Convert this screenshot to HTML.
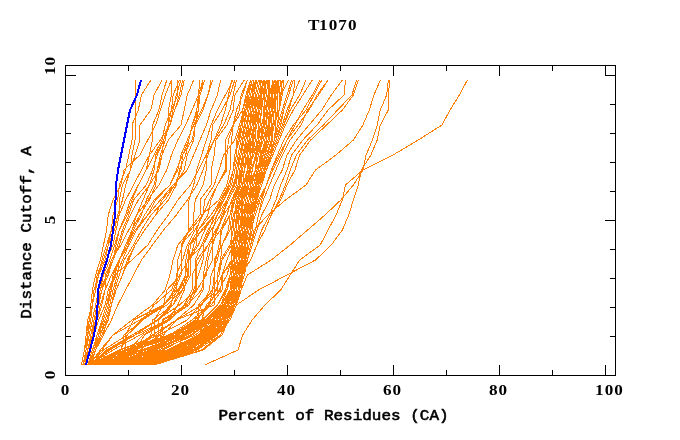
<!DOCTYPE html>
<html><head><meta charset="utf-8"><title>T1070</title>
<style>
html,body{margin:0;padding:0;background:#fff;}
svg{display:block}
text{font-family:"Liberation Mono","DejaVu Sans Mono",monospace;font-weight:normal;font-size:14.6px;fill:#000;stroke:#000;stroke-width:0.55px;stroke-linejoin:round}
text.d{font-family:"Liberation Serif",serif;font-weight:bold;font-size:14.8px;stroke:none}
</style></head><body>
<svg width="680" height="440" viewBox="0 0 680 440">
<rect width="680" height="440" fill="#fff"/>
<g shape-rendering="crispEdges" stroke-linejoin="round">
<path d="M81.3 365.0 84.5 350.0 86.1 335.0 89.2 320.0 90.8 305.0 92.4 290.0 95.6 275.0 100.3 260.0 103.5 245.0 106.6 230.0 108.2 215.0 113.0 200.0 120.9 185.0 124.0 170.0 139.9 155.0 147.8 140.0 155.7 125.0 160.4 110.0 165.2 95.0 171.5 80.0" stroke="#ff8000" stroke-width="1" fill="none"/>
<path d="M82.9 365.0 86.1 350.0 87.7 335.0 90.8 320.0 92.4 305.0 95.6 290.0 97.1 275.0 103.5 260.0 108.2 245.0 111.4 230.0 113.0 215.0 117.7 200.0 119.3 185.0 125.6 170.0 128.8 155.0 132.0 140.0 132.0 125.0 138.3 110.0 141.4 95.0 150.9 80.0" stroke="#ff8000" stroke-width="1" fill="none"/>
<path d="M81.3 365.0 84.5 350.0 87.7 335.0 89.2 320.0 92.4 305.0 95.6 290.0 98.7 275.0 105.1 260.0 108.2 245.0 114.6 230.0 117.7 215.0 122.5 200.0 125.6 185.0 130.4 170.0 135.1 155.0 139.9 140.0 139.9 125.0 150.9 110.0 154.1 95.0 162.0 80.0" stroke="#ff8000" stroke-width="1" fill="none"/>
<path d="M81.3 365.0 84.5 350.0 86.1 335.0 87.7 320.0 92.4 305.0 94.0 290.0 98.7 275.0 101.9 260.0 106.6 245.0 111.4 230.0 119.3 215.0 125.6 200.0 133.5 185.0 141.4 170.0 149.4 155.0 160.4 140.0 169.9 125.0 174.7 110.0 181.0 95.0 184.2 80.0" stroke="#ff8000" stroke-width="1" fill="none"/>
<path d="M86.1 365.0 87.7 350.0 92.4 335.0 95.6 320.0 97.1 305.0 100.3 290.0 103.5 275.0 106.6 260.0 113.0 245.0 116.1 230.0 119.3 215.0 119.3 200.0 122.5 185.0 130.4 170.0 132.0 155.0 135.1 140.0 135.1 125.0 135.1 110.0 135.1 95.0 135.1 80.0" stroke="#ff8000" stroke-width="1" fill="none"/>
<path d="M82.9 365.0 86.1 350.0 89.2 335.0 92.4 320.0 95.6 305.0 98.7 290.0 103.5 275.0 109.8 260.0 114.6 245.0 119.3 230.0 125.6 215.0 130.4 200.0 138.3 185.0 146.2 170.0 154.1 155.0 162.0 140.0 165.2 125.0 171.5 110.0 173.1 95.0 179.4 80.0" stroke="#ff8000" stroke-width="1" fill="none"/>
<path d="M86.1 365.0 89.2 350.0 94.0 335.0 97.1 320.0 100.3 305.0 105.1 290.0 105.1 275.0 113.0 260.0 116.1 245.0 119.3 230.0 127.2 215.0 132.0 200.0 138.3 185.0 146.2 170.0 149.4 155.0 152.5 140.0 152.5 125.0 158.9 110.0 162.0 95.0 166.8 80.0" stroke="#ff8000" stroke-width="1" fill="none"/>
<path d="M84.5 365.0 87.7 350.0 90.8 335.0 94.0 320.0 97.1 305.0 101.9 290.0 106.6 275.0 113.0 260.0 117.7 245.0 122.5 230.0 128.8 215.0 133.5 200.0 146.2 185.0 152.5 170.0 157.3 155.0 163.6 140.0 169.9 125.0 173.1 110.0 176.3 95.0 181.0 80.0" stroke="#ff8000" stroke-width="1" fill="none"/>
<path d="M82.9 365.0 87.7 350.0 90.8 335.0 95.6 320.0 98.7 305.0 101.9 290.0 108.2 275.0 113.0 260.0 119.3 245.0 124.0 230.0 130.4 215.0 138.3 200.0 149.4 185.0 158.9 170.0 162.0 155.0 168.3 140.0 181.0 125.0 184.2 110.0 187.3 95.0 193.7 80.0" stroke="#ff8000" stroke-width="1" fill="none"/>
<path d="M82.9 365.0 87.7 350.0 92.4 335.0 94.0 320.0 97.1 305.0 100.3 290.0 106.6 275.0 111.4 260.0 120.9 245.0 128.8 230.0 136.7 215.0 147.8 200.0 158.9 185.0 166.8 170.0 171.5 155.0 177.8 140.0 185.7 125.0 192.1 110.0 198.4 95.0 204.7 80.0" stroke="#ff8000" stroke-width="1" fill="none"/>
<path d="M87.7 365.0 94.0 350.0 98.7 335.0 101.9 320.0 106.6 305.0 111.4 290.0 113.0 275.0 119.3 260.0 127.2 245.0 132.0 230.0 139.9 215.0 149.4 200.0 155.7 185.0 157.3 170.0 162.0 155.0 163.6 140.0 169.9 125.0 174.7 110.0 179.4 95.0 182.6 80.0" stroke="#ff8000" stroke-width="1" fill="none"/>
<path d="M89.2 365.0 94.0 350.0 100.3 335.0 101.9 320.0 106.6 305.0 109.8 290.0 114.6 275.0 119.3 260.0 125.6 245.0 132.0 230.0 136.7 215.0 143.0 200.0 149.4 185.0 154.1 170.0 155.7 155.0 163.6 140.0 168.3 125.0 171.5 110.0 177.8 95.0 177.8 80.0" stroke="#ff8000" stroke-width="1" fill="none"/>
<path d="M89.2 365.0 94.0 350.0 100.3 335.0 105.1 320.0 109.8 305.0 113.0 290.0 117.7 275.0 119.3 260.0 127.2 245.0 133.5 230.0 141.4 215.0 146.2 200.0 154.1 185.0 157.3 170.0 160.4 155.0 165.2 140.0 168.3 125.0 168.3 110.0 171.5 95.0 171.5 80.0" stroke="#ff8000" stroke-width="1" fill="none"/>
<path d="M86.1 365.0 90.8 350.0 94.0 335.0 98.7 320.0 105.1 305.0 108.2 290.0 114.6 275.0 119.3 260.0 127.2 245.0 135.1 230.0 147.8 215.0 155.7 200.0 169.9 185.0 176.3 170.0 182.6 155.0 192.1 140.0 195.2 125.0 203.1 110.0 207.9 95.0 211.1 80.0" stroke="#ff8000" stroke-width="1" fill="none"/>
<path d="M84.5 365.0 89.2 350.0 92.4 335.0 97.1 320.0 101.9 305.0 105.1 290.0 111.4 275.0 119.3 260.0 128.8 245.0 136.7 230.0 147.8 215.0 160.4 200.0 173.1 185.0 187.3 170.0 193.7 155.0 200.0 140.0 206.3 125.0 211.1 110.0 217.4 95.0 220.6 80.0" stroke="#ff8000" stroke-width="1" fill="none"/>
<path d="M87.7 365.0 92.4 350.0 97.1 335.0 101.9 320.0 106.6 305.0 109.8 290.0 116.1 275.0 122.5 260.0 128.8 245.0 136.7 230.0 144.6 215.0 154.1 200.0 169.9 185.0 177.8 170.0 181.0 155.0 187.3 140.0 193.7 125.0 201.6 110.0 207.9 95.0 212.6 80.0" stroke="#ff8000" stroke-width="1" fill="none"/>
<path d="M89.2 365.0 95.6 350.0 100.3 335.0 106.6 320.0 111.4 305.0 114.6 290.0 119.3 275.0 124.0 260.0 133.5 245.0 141.4 230.0 150.9 215.0 165.2 200.0 174.7 185.0 184.2 170.0 187.3 155.0 193.7 140.0 195.2 125.0 198.4 110.0 200.0 95.0 204.7 80.0" stroke="#ff8000" stroke-width="1" fill="none"/>
<path d="M90.8 365.0 95.6 350.0 103.5 335.0 106.6 320.0 111.4 305.0 116.1 290.0 122.5 275.0 127.2 260.0 135.1 245.0 144.6 230.0 155.7 215.0 162.0 200.0 174.7 185.0 181.0 170.0 182.6 155.0 188.9 140.0 192.1 125.0 198.4 110.0 198.4 95.0 203.1 80.0" stroke="#ff8000" stroke-width="1" fill="none"/>
<path d="M89.2 365.0 95.6 350.0 101.9 335.0 108.2 320.0 111.4 305.0 116.1 290.0 122.5 275.0 128.8 260.0 135.1 245.0 144.6 230.0 155.7 215.0 168.3 200.0 176.3 185.0 179.4 170.0 185.7 155.0 188.9 140.0 192.1 125.0 196.8 110.0 198.4 95.0 200.0 80.0" stroke="#ff8000" stroke-width="1" fill="none"/>
<path d="M90.8 365.0 103.5 350.0 127.2 335.0 143.0 320.0 154.1 305.0 171.5 290.0 177.8 275.0 177.8 260.0 182.6 245.0 188.9 230.0 188.9 215.0 188.9 200.0 193.7 185.0 196.8 170.0 201.6 155.0 206.3 140.0 211.1 125.0 217.4 110.0 225.3 95.0 233.2 80.0" stroke="#ff8000" stroke-width="1" fill="none"/>
<path d="M89.2 365.0 100.3 350.0 113.0 335.0 132.0 320.0 152.5 305.0 165.2 290.0 169.9 275.0 173.1 260.0 177.8 245.0 190.5 230.0 203.1 215.0 204.7 200.0 214.2 185.0 219.0 170.0 223.7 155.0 234.8 140.0 239.5 125.0 244.3 110.0 249.0 95.0 252.2 80.0" stroke="#ff8000" stroke-width="1" fill="none"/>
<path d="M89.2 365.0 101.9 350.0 113.0 335.0 139.9 320.0 163.6 305.0 176.3 290.0 176.3 275.0 182.6 260.0 187.3 245.0 195.2 230.0 203.1 215.0 209.5 200.0 217.4 185.0 225.3 170.0 225.3 155.0 225.3 140.0 233.2 125.0 239.5 110.0 241.1 95.0 247.4 80.0" stroke="#ff8000" stroke-width="1" fill="none"/>
<path d="M90.8 365.0 108.2 350.0 132.0 335.0 157.3 320.0 171.5 305.0 173.1 290.0 179.4 275.0 188.9 260.0 198.4 245.0 204.7 230.0 214.2 215.0 220.6 200.0 230.0 185.0 233.2 170.0 234.8 155.0 239.5 140.0 241.1 125.0 242.7 110.0 247.4 95.0 250.6 80.0" stroke="#ff8000" stroke-width="1" fill="none"/>
<path d="M89.2 365.0 109.8 350.0 135.1 335.0 168.3 320.0 177.8 305.0 184.2 290.0 187.3 275.0 188.9 260.0 190.5 245.0 201.6 230.0 214.2 215.0 222.1 200.0 230.0 185.0 233.2 170.0 234.8 155.0 239.5 140.0 242.7 125.0 244.3 110.0 249.0 95.0 252.2 80.0" stroke="#ff8000" stroke-width="1" fill="none"/>
<path d="M89.2 365.0 113.0 350.0 139.9 335.0 166.8 320.0 188.9 305.0 196.8 290.0 206.3 275.0 207.9 260.0 212.6 245.0 212.6 230.0 217.4 215.0 226.9 200.0 233.2 185.0 238.0 170.0 239.5 155.0 242.7 140.0 244.3 125.0 247.4 110.0 250.6 95.0 253.8 80.0" stroke="#ff8000" stroke-width="1" fill="none"/>
<path d="M90.8 365.0 106.6 350.0 135.1 335.0 157.3 320.0 179.4 305.0 196.8 290.0 196.8 275.0 196.8 260.0 207.9 245.0 215.8 230.0 223.7 215.0 233.2 200.0 238.0 185.0 241.1 170.0 244.3 155.0 249.0 140.0 250.6 125.0 253.8 110.0 256.9 95.0 260.1 80.0" stroke="#ff8000" stroke-width="1" fill="none"/>
<path d="M89.2 365.0 119.3 350.0 158.9 335.0 187.3 320.0 200.0 305.0 217.4 290.0 217.4 275.0 220.6 260.0 222.1 245.0 230.0 230.0 231.6 215.0 234.8 200.0 241.1 185.0 241.1 170.0 244.3 155.0 247.4 140.0 249.0 125.0 255.4 110.0 255.4 95.0 258.5 80.0" stroke="#ff8000" stroke-width="1" fill="none"/>
<path d="M89.2 365.0 119.3 350.0 169.9 335.0 192.1 320.0 209.5 305.0 212.6 290.0 219.0 275.0 220.6 260.0 230.0 245.0 233.2 230.0 234.8 215.0 238.0 200.0 242.7 185.0 244.3 170.0 247.4 155.0 250.6 140.0 253.8 125.0 255.4 110.0 256.9 95.0 260.1 80.0" stroke="#ff8000" stroke-width="1" fill="none"/>
<path d="M89.2 365.0 124.0 350.0 171.5 335.0 196.8 320.0 207.9 305.0 219.0 290.0 226.9 275.0 231.6 260.0 231.6 245.0 236.4 230.0 236.4 215.0 242.7 200.0 245.9 185.0 247.4 170.0 249.0 155.0 250.6 140.0 253.8 125.0 255.4 110.0 258.5 95.0 261.7 80.0" stroke="#ff8000" stroke-width="1" fill="none"/>
<path d="M108.2 365.0 125.6 350.0 125.6 335.0 133.5 320.0 163.6 305.0 166.8 290.0 181.0 275.0 181.0 260.0 181.0 245.0 193.7 230.0 193.7 215.0 195.2 200.0 203.1 185.0 206.3 170.0 206.3 155.0 211.1 140.0 212.6 125.0 222.1 110.0 230.0 95.0 234.8 80.0" stroke="#ff8000" stroke-width="1" fill="none"/>
<path d="M100.3 365.0 120.9 350.0 124.0 335.0 143.0 320.0 163.6 305.0 174.7 290.0 181.0 275.0 181.0 260.0 181.0 245.0 188.9 230.0 200.0 215.0 200.0 200.0 211.1 185.0 211.1 170.0 214.2 155.0 215.8 140.0 226.9 125.0 233.2 110.0 234.8 95.0 244.3 80.0" stroke="#ff8000" stroke-width="1" fill="none"/>
<path d="M86.1 365.0 139.9 350.0 158.9 335.0 158.9 320.0 169.9 305.0 177.8 290.0 185.7 275.0 185.7 260.0 188.9 245.0 198.4 230.0 207.9 215.0 211.1 200.0 217.4 185.0 226.9 170.0 226.9 155.0 228.5 140.0 233.2 125.0 236.4 110.0 242.7 95.0 247.4 80.0" stroke="#ff8000" stroke-width="1" fill="none"/>
<path d="M86.1 365.0 127.2 350.0 154.1 335.0 154.1 320.0 163.6 305.0 179.4 290.0 185.7 275.0 187.3 260.0 196.8 245.0 196.8 230.0 201.6 215.0 219.0 200.0 226.9 185.0 230.0 170.0 230.0 155.0 231.6 140.0 233.2 125.0 242.7 110.0 245.9 95.0 250.6 80.0" stroke="#ff8000" stroke-width="1" fill="none"/>
<path d="M101.9 365.0 106.6 350.0 132.0 335.0 158.9 320.0 173.1 305.0 179.4 290.0 188.9 275.0 188.9 260.0 188.9 245.0 203.1 230.0 214.2 215.0 220.6 200.0 230.0 185.0 233.2 170.0 236.4 155.0 236.4 140.0 241.1 125.0 244.3 110.0 249.0 95.0 252.2 80.0" stroke="#ff8000" stroke-width="1" fill="none"/>
<path d="M90.8 365.0 120.9 350.0 127.2 335.0 141.4 320.0 166.8 305.0 182.6 290.0 190.5 275.0 190.5 260.0 193.7 245.0 198.4 230.0 211.1 215.0 220.6 200.0 228.5 185.0 233.2 170.0 234.8 155.0 238.0 140.0 241.1 125.0 245.9 110.0 247.4 95.0 252.2 80.0" stroke="#ff8000" stroke-width="1" fill="none"/>
<path d="M100.3 365.0 135.1 350.0 150.9 335.0 152.5 320.0 173.1 305.0 182.6 290.0 185.7 275.0 187.3 260.0 203.1 245.0 209.5 230.0 214.2 215.0 223.7 200.0 230.0 185.0 233.2 170.0 234.8 155.0 239.5 140.0 241.1 125.0 245.9 110.0 249.0 95.0 252.2 80.0" stroke="#ff8000" stroke-width="1" fill="none"/>
<path d="M113.0 365.0 152.5 350.0 162.0 335.0 162.0 320.0 185.7 305.0 195.2 290.0 195.2 275.0 195.2 260.0 201.6 245.0 207.9 230.0 217.4 215.0 223.7 200.0 231.6 185.0 234.8 170.0 238.0 155.0 241.1 140.0 244.3 125.0 245.9 110.0 250.6 95.0 253.8 80.0" stroke="#ff8000" stroke-width="1" fill="none"/>
<path d="M117.7 365.0 135.1 350.0 144.6 335.0 169.9 320.0 184.2 305.0 192.1 290.0 192.1 275.0 200.0 260.0 207.9 245.0 217.4 230.0 223.7 215.0 226.9 200.0 234.8 185.0 236.4 170.0 239.5 155.0 242.7 140.0 244.3 125.0 247.4 110.0 252.2 95.0 255.4 80.0" stroke="#ff8000" stroke-width="1" fill="none"/>
<path d="M97.1 365.0 139.9 350.0 160.4 335.0 163.6 320.0 188.9 305.0 193.7 290.0 198.4 275.0 203.1 260.0 203.1 245.0 211.1 230.0 220.6 215.0 226.9 200.0 234.8 185.0 238.0 170.0 241.1 155.0 242.7 140.0 245.9 125.0 249.0 110.0 252.2 95.0 255.4 80.0" stroke="#ff8000" stroke-width="1" fill="none"/>
<path d="M90.8 365.0 128.8 350.0 143.0 335.0 168.3 320.0 187.3 305.0 201.6 290.0 204.7 275.0 212.6 260.0 212.6 245.0 217.4 230.0 222.1 215.0 228.5 200.0 236.4 185.0 238.0 170.0 241.1 155.0 244.3 140.0 247.4 125.0 249.0 110.0 252.2 95.0 256.9 80.0" stroke="#ff8000" stroke-width="1" fill="none"/>
<path d="M113.0 365.0 136.7 350.0 152.5 335.0 176.3 320.0 193.7 305.0 203.1 290.0 203.1 275.0 206.3 260.0 209.5 245.0 220.6 230.0 226.9 215.0 231.6 200.0 238.0 185.0 239.5 170.0 242.7 155.0 245.9 140.0 247.4 125.0 250.6 110.0 253.8 95.0 256.9 80.0" stroke="#ff8000" stroke-width="1" fill="none"/>
<path d="M120.9 365.0 154.1 350.0 163.6 335.0 176.3 320.0 201.6 305.0 209.5 290.0 211.1 275.0 217.4 260.0 220.6 245.0 220.6 230.0 230.0 215.0 233.2 200.0 239.5 185.0 241.1 170.0 242.7 155.0 245.9 140.0 249.0 125.0 252.2 110.0 255.4 95.0 258.5 80.0" stroke="#ff8000" stroke-width="1" fill="none"/>
<path d="M108.2 365.0 133.5 350.0 155.7 335.0 176.3 320.0 214.2 305.0 214.2 290.0 214.2 275.0 215.8 260.0 219.0 245.0 222.1 230.0 230.0 215.0 233.2 200.0 238.0 185.0 241.1 170.0 244.3 155.0 247.4 140.0 249.0 125.0 252.2 110.0 255.4 95.0 258.5 80.0" stroke="#ff8000" stroke-width="1" fill="none"/>
<path d="M97.1 365.0 143.0 350.0 181.0 335.0 198.4 320.0 198.4 305.0 212.6 290.0 214.2 275.0 214.2 260.0 222.1 245.0 228.5 230.0 230.0 215.0 234.8 200.0 239.5 185.0 242.7 170.0 244.3 155.0 247.4 140.0 250.6 125.0 253.8 110.0 255.4 95.0 258.5 80.0" stroke="#ff8000" stroke-width="1" fill="none"/>
<path d="M135.1 365.0 177.8 350.0 182.6 335.0 195.2 320.0 201.6 305.0 212.6 290.0 219.0 275.0 222.1 260.0 231.6 245.0 231.6 230.0 234.8 215.0 236.4 200.0 242.7 185.0 244.3 170.0 247.4 155.0 249.0 140.0 252.2 125.0 253.8 110.0 256.9 95.0 260.1 80.0" stroke="#ff8000" stroke-width="1" fill="none"/>
<path d="M111.4 365.0 130.4 350.0 182.6 335.0 196.8 320.0 209.5 305.0 215.8 290.0 222.1 275.0 231.6 260.0 231.6 245.0 231.6 230.0 233.2 215.0 239.5 200.0 244.3 185.0 247.4 170.0 250.6 155.0 250.6 140.0 253.8 125.0 256.9 110.0 258.5 95.0 261.7 80.0" stroke="#ff8000" stroke-width="1" fill="none"/>
<path d="M94.0 365.0 135.1 350.0 171.5 335.0 195.2 320.0 211.1 305.0 222.1 290.0 222.1 275.0 226.9 260.0 233.2 245.0 236.4 230.0 236.4 215.0 241.1 200.0 245.9 185.0 247.4 170.0 249.0 155.0 252.2 140.0 253.8 125.0 255.4 110.0 258.5 95.0 261.7 80.0" stroke="#ff8000" stroke-width="1" fill="none"/>
<path d="M125.6 365.0 171.5 350.0 200.0 335.0 201.6 320.0 206.3 305.0 220.6 290.0 222.1 275.0 233.2 260.0 234.8 245.0 239.5 230.0 241.1 215.0 242.7 200.0 247.4 185.0 249.0 170.0 252.2 155.0 252.2 140.0 255.4 125.0 256.9 110.0 260.1 95.0 263.3 80.0" stroke="#ff8000" stroke-width="1" fill="none"/>
<path d="M124.0 365.0 154.1 350.0 168.3 335.0 201.6 320.0 217.4 305.0 225.3 290.0 230.0 275.0 233.2 260.0 236.4 245.0 239.5 230.0 242.7 215.0 245.9 200.0 247.4 185.0 250.6 170.0 252.2 155.0 253.8 140.0 256.9 125.0 258.5 110.0 261.7 95.0 263.3 80.0" stroke="#ff8000" stroke-width="1" fill="none"/>
<path d="M92.4 365.0 135.1 350.0 171.5 335.0 201.6 320.0 217.4 305.0 226.9 290.0 230.0 275.0 231.6 260.0 233.2 245.0 236.4 230.0 236.4 215.0 238.0 200.0 239.5 185.0 244.3 170.0 245.9 155.0 249.0 140.0 250.6 125.0 250.6 110.0 252.2 95.0 253.8 80.0" stroke="#ff8000" stroke-width="1" fill="none"/>
<path d="M87.7 365.0 127.2 350.0 174.7 335.0 203.1 320.0 217.4 305.0 226.9 290.0 230.0 275.0 233.2 260.0 233.2 245.0 234.8 230.0 236.4 215.0 238.0 200.0 239.5 185.0 242.7 170.0 244.3 155.0 245.9 140.0 249.0 125.0 252.2 110.0 252.2 95.0 253.8 80.0" stroke="#ff8000" stroke-width="1" fill="none"/>
<path d="M94.0 365.0 132.0 350.0 177.8 335.0 204.7 320.0 220.6 305.0 226.9 290.0 231.6 275.0 233.2 260.0 234.8 245.0 238.0 230.0 239.5 215.0 242.7 200.0 242.7 185.0 247.4 170.0 250.6 155.0 253.8 140.0 256.9 125.0 260.1 110.0 260.1 95.0 260.1 80.0" stroke="#ff8000" stroke-width="1" fill="none"/>
<path d="M95.6 365.0 133.5 350.0 181.0 335.0 204.7 320.0 222.1 305.0 230.0 290.0 233.2 275.0 234.8 260.0 234.8 245.0 239.5 230.0 241.1 215.0 241.1 200.0 245.9 185.0 247.4 170.0 249.0 155.0 249.0 140.0 250.6 125.0 252.2 110.0 253.8 95.0 256.9 80.0" stroke="#ff8000" stroke-width="1" fill="none"/>
<path d="M95.6 365.0 132.0 350.0 176.3 335.0 207.9 320.0 220.6 305.0 226.9 290.0 230.0 275.0 233.2 260.0 234.8 245.0 236.4 230.0 238.0 215.0 241.1 200.0 242.7 185.0 247.4 170.0 247.4 155.0 249.0 140.0 250.6 125.0 252.2 110.0 253.8 95.0 255.4 80.0" stroke="#ff8000" stroke-width="1" fill="none"/>
<path d="M103.5 365.0 146.2 350.0 184.2 335.0 207.9 320.0 222.1 305.0 230.0 290.0 233.2 275.0 234.8 260.0 238.0 245.0 241.1 230.0 241.1 215.0 242.7 200.0 244.3 185.0 247.4 170.0 247.4 155.0 249.0 140.0 250.6 125.0 252.2 110.0 252.2 95.0 256.9 80.0" stroke="#ff8000" stroke-width="1" fill="none"/>
<path d="M101.9 365.0 141.4 350.0 182.6 335.0 207.9 320.0 223.7 305.0 231.6 290.0 233.2 275.0 234.8 260.0 234.8 245.0 238.0 230.0 238.0 215.0 239.5 200.0 242.7 185.0 244.3 170.0 249.0 155.0 252.2 140.0 253.8 125.0 253.8 110.0 255.4 95.0 258.5 80.0" stroke="#ff8000" stroke-width="1" fill="none"/>
<path d="M100.3 365.0 143.0 350.0 185.7 335.0 209.5 320.0 222.1 305.0 230.0 290.0 234.8 275.0 236.4 260.0 239.5 245.0 241.1 230.0 241.1 215.0 244.3 200.0 247.4 185.0 249.0 170.0 250.6 155.0 253.8 140.0 253.8 125.0 260.1 110.0 260.1 95.0 264.9 80.0" stroke="#ff8000" stroke-width="1" fill="none"/>
<path d="M103.5 365.0 154.1 350.0 187.3 335.0 207.9 320.0 220.6 305.0 230.0 290.0 233.2 275.0 236.4 260.0 238.0 245.0 241.1 230.0 244.3 215.0 245.9 200.0 247.4 185.0 250.6 170.0 256.9 155.0 256.9 140.0 258.5 125.0 258.5 110.0 260.1 95.0 264.9 80.0" stroke="#ff8000" stroke-width="1" fill="none"/>
<path d="M113.0 365.0 150.9 350.0 187.3 335.0 211.1 320.0 225.3 305.0 230.0 290.0 231.6 275.0 234.8 260.0 236.4 245.0 239.5 230.0 241.1 215.0 244.3 200.0 245.9 185.0 249.0 170.0 252.2 155.0 255.4 140.0 255.4 125.0 258.5 110.0 264.9 95.0 266.4 80.0" stroke="#ff8000" stroke-width="1" fill="none"/>
<path d="M108.2 365.0 149.4 350.0 182.6 335.0 206.3 320.0 223.7 305.0 230.0 290.0 234.8 275.0 236.4 260.0 239.5 245.0 241.1 230.0 242.7 215.0 245.9 200.0 249.0 185.0 249.0 170.0 252.2 155.0 258.5 140.0 258.5 125.0 261.7 110.0 261.7 95.0 266.4 80.0" stroke="#ff8000" stroke-width="1" fill="none"/>
<path d="M119.3 365.0 154.1 350.0 190.5 335.0 211.1 320.0 225.3 305.0 231.6 290.0 233.2 275.0 236.4 260.0 239.5 245.0 241.1 230.0 242.7 215.0 245.9 200.0 249.0 185.0 252.2 170.0 255.4 155.0 258.5 140.0 261.7 125.0 264.9 110.0 268.0 95.0 269.6 80.0" stroke="#ff8000" stroke-width="1" fill="none"/>
<path d="M109.8 365.0 155.7 350.0 184.2 335.0 211.1 320.0 223.7 305.0 231.6 290.0 236.4 275.0 238.0 260.0 239.5 245.0 239.5 230.0 241.1 215.0 242.7 200.0 245.9 185.0 247.4 170.0 253.8 155.0 258.5 140.0 260.1 125.0 261.7 110.0 263.3 95.0 266.4 80.0" stroke="#ff8000" stroke-width="1" fill="none"/>
<path d="M109.8 365.0 152.5 350.0 192.1 335.0 211.1 320.0 225.3 305.0 231.6 290.0 234.8 275.0 238.0 260.0 239.5 245.0 242.7 230.0 245.9 215.0 249.0 200.0 250.6 185.0 255.4 170.0 256.9 155.0 260.1 140.0 263.3 125.0 263.3 110.0 266.4 95.0 268.0 80.0" stroke="#ff8000" stroke-width="1" fill="none"/>
<path d="M108.2 365.0 150.9 350.0 192.1 335.0 212.6 320.0 225.3 305.0 231.6 290.0 233.2 275.0 236.4 260.0 239.5 245.0 241.1 230.0 242.7 215.0 242.7 200.0 249.0 185.0 252.2 170.0 256.9 155.0 261.7 140.0 264.9 125.0 264.9 110.0 264.9 95.0 264.9 80.0" stroke="#ff8000" stroke-width="1" fill="none"/>
<path d="M124.0 365.0 169.9 350.0 200.0 335.0 219.0 320.0 230.0 305.0 234.8 290.0 236.4 275.0 238.0 260.0 239.5 245.0 241.1 230.0 244.3 215.0 247.4 200.0 250.6 185.0 255.4 170.0 256.9 155.0 261.7 140.0 264.9 125.0 269.6 110.0 269.6 95.0 269.6 80.0" stroke="#ff8000" stroke-width="1" fill="none"/>
<path d="M111.4 365.0 162.0 350.0 192.1 335.0 212.6 320.0 225.3 305.0 231.6 290.0 236.4 275.0 239.5 260.0 241.1 245.0 242.7 230.0 245.9 215.0 249.0 200.0 252.2 185.0 255.4 170.0 256.9 155.0 261.7 140.0 263.3 125.0 266.4 110.0 269.6 95.0 269.6 80.0" stroke="#ff8000" stroke-width="1" fill="none"/>
<path d="M119.3 365.0 163.6 350.0 190.5 335.0 212.6 320.0 225.3 305.0 233.2 290.0 236.4 275.0 239.5 260.0 241.1 245.0 244.3 230.0 244.3 215.0 249.0 200.0 252.2 185.0 255.4 170.0 258.5 155.0 263.3 140.0 266.4 125.0 266.4 110.0 268.0 95.0 268.0 80.0" stroke="#ff8000" stroke-width="1" fill="none"/>
<path d="M133.5 365.0 179.4 350.0 198.4 335.0 212.6 320.0 226.9 305.0 234.8 290.0 236.4 275.0 238.0 260.0 241.1 245.0 244.3 230.0 247.4 215.0 252.2 200.0 253.8 185.0 256.9 170.0 261.7 155.0 264.9 140.0 266.4 125.0 268.0 110.0 275.9 95.0 277.5 80.0" stroke="#ff8000" stroke-width="1" fill="none"/>
<path d="M130.4 365.0 177.8 350.0 203.1 335.0 215.8 320.0 226.9 305.0 233.2 290.0 238.0 275.0 239.5 260.0 241.1 245.0 244.3 230.0 247.4 215.0 249.0 200.0 253.8 185.0 258.5 170.0 260.1 155.0 261.7 140.0 264.9 125.0 268.0 110.0 268.0 95.0 268.0 80.0" stroke="#ff8000" stroke-width="1" fill="none"/>
<path d="M120.9 365.0 168.3 350.0 200.0 335.0 215.8 320.0 225.3 305.0 231.6 290.0 236.4 275.0 238.0 260.0 241.1 245.0 242.7 230.0 244.3 215.0 245.9 200.0 249.0 185.0 255.4 170.0 258.5 155.0 261.7 140.0 261.7 125.0 264.9 110.0 269.6 95.0 274.3 80.0" stroke="#ff8000" stroke-width="1" fill="none"/>
<path d="M124.0 365.0 171.5 350.0 200.0 335.0 217.4 320.0 226.9 305.0 234.8 290.0 236.4 275.0 238.0 260.0 241.1 245.0 244.3 230.0 245.9 215.0 249.0 200.0 252.2 185.0 255.4 170.0 263.3 155.0 264.9 140.0 268.0 125.0 269.6 110.0 271.2 95.0 272.8 80.0" stroke="#ff8000" stroke-width="1" fill="none"/>
<path d="M128.8 365.0 174.7 350.0 206.3 335.0 222.1 320.0 231.6 305.0 236.4 290.0 238.0 275.0 241.1 260.0 244.3 245.0 245.9 230.0 250.6 215.0 253.8 200.0 256.9 185.0 260.1 170.0 260.1 155.0 266.4 140.0 269.6 125.0 271.2 110.0 272.8 95.0 272.8 80.0" stroke="#ff8000" stroke-width="1" fill="none"/>
<path d="M128.8 365.0 173.1 350.0 204.7 335.0 222.1 320.0 231.6 305.0 234.8 290.0 238.0 275.0 241.1 260.0 241.1 245.0 242.7 230.0 245.9 215.0 249.0 200.0 255.4 185.0 260.1 170.0 263.3 155.0 268.0 140.0 268.0 125.0 269.6 110.0 271.2 95.0 272.8 80.0" stroke="#ff8000" stroke-width="1" fill="none"/>
<path d="M139.9 365.0 181.0 350.0 212.6 335.0 223.7 320.0 231.6 305.0 236.4 290.0 238.0 275.0 241.1 260.0 244.3 245.0 244.3 230.0 247.4 215.0 249.0 200.0 250.6 185.0 252.2 170.0 256.9 155.0 258.5 140.0 261.7 125.0 264.9 110.0 268.0 95.0 274.3 80.0" stroke="#ff8000" stroke-width="1" fill="none"/>
<path d="M135.1 365.0 182.6 350.0 204.7 335.0 219.0 320.0 228.5 305.0 234.8 290.0 236.4 275.0 239.5 260.0 242.7 245.0 247.4 230.0 247.4 215.0 252.2 200.0 253.8 185.0 258.5 170.0 260.1 155.0 266.4 140.0 268.0 125.0 271.2 110.0 272.8 95.0 274.3 80.0" stroke="#ff8000" stroke-width="1" fill="none"/>
<path d="M133.5 365.0 184.2 350.0 209.5 335.0 220.6 320.0 231.6 305.0 236.4 290.0 239.5 275.0 241.1 260.0 244.3 245.0 245.9 230.0 247.4 215.0 250.6 200.0 253.8 185.0 256.9 170.0 263.3 155.0 266.4 140.0 268.0 125.0 274.3 110.0 275.9 95.0 275.9 80.0" stroke="#ff8000" stroke-width="1" fill="none"/>
<path d="M139.9 365.0 185.7 350.0 209.5 335.0 225.3 320.0 231.6 305.0 238.0 290.0 241.1 275.0 242.7 260.0 244.3 245.0 244.3 230.0 245.9 215.0 249.0 200.0 256.9 185.0 256.9 170.0 261.7 155.0 264.9 140.0 266.4 125.0 268.0 110.0 272.8 95.0 274.3 80.0" stroke="#ff8000" stroke-width="1" fill="none"/>
<path d="M141.4 365.0 188.9 350.0 211.1 335.0 223.7 320.0 231.6 305.0 239.5 290.0 242.7 275.0 244.3 260.0 245.9 245.0 247.4 230.0 250.6 215.0 253.8 200.0 256.9 185.0 261.7 170.0 264.9 155.0 269.6 140.0 269.6 125.0 269.6 110.0 272.8 95.0 277.5 80.0" stroke="#ff8000" stroke-width="1" fill="none"/>
<path d="M144.6 365.0 188.9 350.0 209.5 335.0 225.3 320.0 234.8 305.0 239.5 290.0 241.1 275.0 244.3 260.0 244.3 245.0 247.4 230.0 249.0 215.0 252.2 200.0 258.5 185.0 264.9 170.0 264.9 155.0 266.4 140.0 269.6 125.0 272.8 110.0 272.8 95.0 275.9 80.0" stroke="#ff8000" stroke-width="1" fill="none"/>
<path d="M136.7 365.0 190.5 350.0 211.1 335.0 223.7 320.0 233.2 305.0 236.4 290.0 238.0 275.0 241.1 260.0 244.3 245.0 247.4 230.0 249.0 215.0 252.2 200.0 255.4 185.0 258.5 170.0 263.3 155.0 269.6 140.0 269.6 125.0 272.8 110.0 272.8 95.0 275.9 80.0" stroke="#ff8000" stroke-width="1" fill="none"/>
<path d="M150.9 365.0 196.8 350.0 220.6 335.0 225.3 320.0 234.8 305.0 238.0 290.0 241.1 275.0 242.7 260.0 245.9 245.0 245.9 230.0 247.4 215.0 253.8 200.0 260.1 185.0 266.4 170.0 271.2 155.0 274.3 140.0 277.5 125.0 279.1 110.0 280.7 95.0 282.3 80.0" stroke="#ff8000" stroke-width="1" fill="none"/>
<path d="M146.2 365.0 187.3 350.0 215.8 335.0 223.7 320.0 234.8 305.0 241.1 290.0 241.1 275.0 244.3 260.0 245.9 245.0 245.9 230.0 252.2 215.0 253.8 200.0 258.5 185.0 260.1 170.0 264.9 155.0 269.6 140.0 271.2 125.0 272.8 110.0 277.5 95.0 282.3 80.0" stroke="#ff8000" stroke-width="1" fill="none"/>
<path d="M149.4 365.0 201.6 350.0 220.6 335.0 228.5 320.0 234.8 305.0 238.0 290.0 242.7 275.0 245.9 260.0 245.9 245.0 249.0 230.0 250.6 215.0 253.8 200.0 260.1 185.0 264.9 170.0 271.2 155.0 274.3 140.0 275.9 125.0 275.9 110.0 275.9 95.0 279.1 80.0" stroke="#ff8000" stroke-width="1" fill="none"/>
<path d="M146.2 365.0 193.7 350.0 215.8 335.0 222.1 320.0 233.2 305.0 239.5 290.0 242.7 275.0 244.3 260.0 245.9 245.0 247.4 230.0 252.2 215.0 253.8 200.0 256.9 185.0 261.7 170.0 266.4 155.0 272.8 140.0 272.8 125.0 274.3 110.0 274.3 95.0 275.9 80.0" stroke="#ff8000" stroke-width="1" fill="none"/>
<path d="M141.4 365.0 195.2 350.0 217.4 335.0 226.9 320.0 234.8 305.0 241.1 290.0 241.1 275.0 244.3 260.0 245.9 245.0 247.4 230.0 250.6 215.0 253.8 200.0 258.5 185.0 261.7 170.0 268.0 155.0 271.2 140.0 271.2 125.0 272.8 110.0 274.3 95.0 275.9 80.0" stroke="#ff8000" stroke-width="1" fill="none"/>
<path d="M143.0 365.0 184.2 350.0 212.6 335.0 226.9 320.0 233.2 305.0 239.5 290.0 241.1 275.0 244.3 260.0 245.9 245.0 249.0 230.0 252.2 215.0 256.9 200.0 260.1 185.0 266.4 170.0 271.2 155.0 271.2 140.0 274.3 125.0 277.5 110.0 277.5 95.0 277.5 80.0" stroke="#ff8000" stroke-width="1" fill="none"/>
<path d="M154.1 365.0 203.1 350.0 220.6 335.0 228.5 320.0 236.4 305.0 239.5 290.0 242.7 275.0 242.7 260.0 245.9 245.0 249.0 230.0 253.8 215.0 256.9 200.0 261.7 185.0 266.4 170.0 271.2 155.0 274.3 140.0 277.5 125.0 279.1 110.0 282.3 95.0 283.8 80.0" stroke="#ff8000" stroke-width="1" fill="none"/>
<path d="M138.3 365.0 181.0 350.0 209.5 335.0 222.1 320.0 230.0 305.0 236.4 290.0 238.0 275.0 242.7 260.0 242.7 245.0 245.9 230.0 249.0 215.0 255.4 200.0 256.9 185.0 261.7 170.0 268.0 155.0 271.2 140.0 274.3 125.0 277.5 110.0 277.5 95.0 279.1 80.0" stroke="#ff8000" stroke-width="1" fill="none"/>
<path d="M143.0 365.0 188.9 350.0 212.6 335.0 222.1 320.0 231.6 305.0 238.0 290.0 239.5 275.0 242.7 260.0 244.3 245.0 245.9 230.0 249.0 215.0 253.8 200.0 256.9 185.0 261.7 170.0 268.0 155.0 271.2 140.0 274.3 125.0 279.1 110.0 279.1 95.0 280.7 80.0" stroke="#ff8000" stroke-width="1" fill="none"/>
<path d="M146.2 365.0 195.2 350.0 215.8 335.0 225.3 320.0 233.2 305.0 238.0 290.0 241.1 275.0 241.1 260.0 242.7 245.0 244.3 230.0 247.4 215.0 252.2 200.0 255.4 185.0 261.7 170.0 266.4 155.0 271.2 140.0 272.8 125.0 279.1 110.0 280.7 95.0 288.6 80.0" stroke="#ff8000" stroke-width="1" fill="none"/>
<path d="M130.4 365.0 177.8 350.0 206.3 335.0 219.0 320.0 230.0 305.0 234.8 290.0 238.0 275.0 244.3 260.0 245.9 245.0 249.0 230.0 250.6 215.0 255.4 200.0 256.9 185.0 263.3 170.0 269.6 155.0 274.3 140.0 277.5 125.0 282.3 110.0 287.0 95.0 291.7 80.0" stroke="#ff8000" stroke-width="1" fill="none"/>
<path d="M116.1 365.0 155.7 350.0 190.5 335.0 212.6 320.0 225.3 305.0 231.6 290.0 234.8 275.0 242.7 260.0 244.3 245.0 247.4 230.0 250.6 215.0 255.4 200.0 258.5 185.0 263.3 170.0 271.2 155.0 274.3 140.0 279.1 125.0 283.8 110.0 288.6 95.0 293.3 80.0" stroke="#ff8000" stroke-width="1" fill="none"/>
<path d="M135.1 365.0 181.0 350.0 206.3 335.0 220.6 320.0 230.0 305.0 236.4 290.0 238.0 275.0 242.7 260.0 244.3 245.0 247.4 230.0 250.6 215.0 253.8 200.0 258.5 185.0 263.3 170.0 268.0 155.0 275.9 140.0 280.7 125.0 283.8 110.0 288.6 95.0 293.3 80.0" stroke="#ff8000" stroke-width="1" fill="none"/>
<path d="M127.2 365.0 173.1 350.0 203.1 335.0 219.0 320.0 230.0 305.0 234.8 290.0 236.4 275.0 242.7 260.0 245.9 245.0 247.4 230.0 250.6 215.0 255.4 200.0 258.5 185.0 263.3 170.0 269.6 155.0 275.9 140.0 282.3 125.0 287.0 110.0 293.3 95.0 294.9 80.0" stroke="#ff8000" stroke-width="1" fill="none"/>
<path d="M122.5 365.0 166.8 350.0 198.4 335.0 215.8 320.0 226.9 305.0 233.2 290.0 236.4 275.0 244.3 260.0 245.9 245.0 247.4 230.0 250.6 215.0 255.4 200.0 260.1 185.0 264.9 170.0 271.2 155.0 277.5 140.0 283.8 125.0 288.6 110.0 293.3 95.0 299.7 80.0" stroke="#ff8000" stroke-width="1" fill="none"/>
<path d="M138.3 365.0 184.2 350.0 207.9 335.0 222.1 320.0 231.6 305.0 238.0 290.0 239.5 275.0 245.9 260.0 247.4 245.0 250.6 230.0 250.6 215.0 256.9 200.0 260.1 185.0 264.9 170.0 271.2 155.0 277.5 140.0 283.8 125.0 290.2 110.0 299.7 95.0 306.0 80.0" stroke="#ff8000" stroke-width="1" fill="none"/>
<path d="M147.8 365.0 193.7 350.0 215.8 335.0 225.3 320.0 234.8 305.0 239.5 290.0 241.1 275.0 244.3 260.0 247.4 245.0 250.6 230.0 252.2 215.0 255.4 200.0 261.7 185.0 266.4 170.0 272.8 155.0 279.1 140.0 285.4 125.0 293.3 110.0 302.8 95.0 312.3 80.0" stroke="#ff8000" stroke-width="1" fill="none"/>
<path d="M143.0 365.0 193.7 350.0 217.4 335.0 228.5 320.0 234.8 305.0 239.5 290.0 241.1 275.0 245.9 260.0 249.0 245.0 252.2 230.0 253.8 215.0 258.5 200.0 266.4 185.0 271.2 170.0 277.5 155.0 283.8 140.0 293.3 125.0 306.0 110.0 313.9 95.0 321.8 80.0" stroke="#ff8000" stroke-width="1" fill="none"/>
<path d="M127.2 365.0 171.5 350.0 201.6 335.0 219.0 320.0 228.5 305.0 234.8 290.0 238.0 275.0 247.4 260.0 250.6 245.0 255.4 230.0 258.5 215.0 261.7 200.0 266.4 185.0 272.8 170.0 280.7 155.0 287.0 140.0 294.9 125.0 302.8 110.0 312.3 95.0 320.2 80.0" stroke="#ff8000" stroke-width="1" fill="none"/>
<path d="M127.2 365.0 171.5 350.0 198.4 335.0 217.4 320.0 228.5 305.0 233.2 290.0 236.4 275.0 244.3 260.0 249.0 245.0 250.6 230.0 255.4 215.0 260.1 200.0 266.4 185.0 271.2 170.0 279.1 155.0 287.0 140.0 298.1 125.0 309.1 110.0 317.1 95.0 328.1 80.0" stroke="#ff8000" stroke-width="1" fill="none"/>
<path d="M116.1 365.0 158.9 350.0 195.2 335.0 214.2 320.0 226.9 305.0 231.6 290.0 236.4 275.0 247.4 260.0 250.6 245.0 255.4 230.0 258.5 215.0 263.3 200.0 269.6 185.0 275.9 170.0 282.3 155.0 290.2 140.0 301.2 125.0 307.6 110.0 318.6 95.0 328.1 80.0" stroke="#ff8000" stroke-width="1" fill="none"/>
<path d="M152.5 365.0 203.1 350.0 222.1 335.0 228.5 320.0 236.4 305.0 241.1 290.0 242.7 275.0 247.4 260.0 252.2 245.0 256.9 230.0 261.7 215.0 269.6 200.0 274.3 185.0 282.3 170.0 287.0 155.0 296.5 140.0 309.1 125.0 321.8 110.0 331.3 95.0 342.4 80.0" stroke="#ff8000" stroke-width="1" fill="none"/>
<path d="M128.8 365.0 168.3 350.0 201.6 335.0 217.4 320.0 228.5 305.0 234.8 290.0 238.0 275.0 250.6 260.0 256.9 245.0 261.7 230.0 269.6 215.0 275.9 200.0 280.7 185.0 287.0 170.0 291.7 155.0 302.8 140.0 317.1 125.0 328.1 110.0 344.0 95.0 345.5 80.0" stroke="#ff8000" stroke-width="1" fill="none"/>
<path d="M128.8 365.0 174.7 350.0 204.7 335.0 219.0 320.0 230.0 305.0 234.8 290.0 238.0 275.0 250.6 260.0 256.9 245.0 264.9 230.0 271.2 215.0 279.1 200.0 285.4 185.0 290.2 170.0 296.5 155.0 307.6 140.0 323.4 125.0 337.6 110.0 351.9 95.0 356.6 80.0" stroke="#ff8000" stroke-width="1" fill="none"/>
<path d="M144.6 365.0 192.1 350.0 215.8 335.0 225.3 320.0 233.2 305.0 238.0 290.0 241.1 275.0 250.6 260.0 256.9 245.0 264.9 230.0 271.2 215.0 280.7 200.0 287.0 185.0 294.9 170.0 299.7 155.0 310.7 140.0 326.6 125.0 342.4 110.0 353.4 95.0 358.2 80.0" stroke="#ff8000" stroke-width="1" fill="none"/>
<path d="M100.3 365.0 169.9 350.0 214.2 335.0 228.5 320.0 236.4 305.0 241.1 290.0 247.4 275.0 271.2 260.0 290.2 245.0 307.6 230.0 325.0 215.0 340.8 200.0 353.4 185.0 362.9 170.0 393.0 155.0 418.3 140.0 442.0 125.0 450.0 110.0 459.4 95.0 467.4 80.0" stroke="#ff8000" stroke-width="1" fill="none"/>
<path d="M204.7 365.0 238.0 350.0 242.7 335.0 252.2 320.0 264.9 305.0 280.7 290.0 290.2 275.0 299.7 260.0 320.2 245.0 328.1 230.0 336.0 215.0 342.4 200.0 345.5 185.0 362.9 170.0 366.1 155.0 372.4 140.0 377.2 125.0 380.3 110.0 386.7 95.0 388.3 80.0" stroke="#ff8000" stroke-width="1" fill="none"/>
<path d="M109.8 365.0 185.7 350.0 217.4 335.0 230.0 320.0 236.4 305.0 258.5 290.0 287.0 275.0 315.5 260.0 331.3 245.0 342.4 230.0 348.7 215.0 353.4 200.0 358.2 185.0 361.4 170.0 370.9 155.0 377.2 140.0 380.3 125.0 388.3 110.0 388.3 95.0 389.8 80.0" stroke="#ff8000" stroke-width="1" fill="none"/>
<path d="M105.1 365.0 179.4 350.0 215.8 335.0 228.5 320.0 234.8 305.0 239.5 290.0 244.3 275.0 247.4 260.0 250.6 245.0 253.8 230.0 268.0 215.0 285.4 200.0 306.0 185.0 315.5 170.0 336.0 155.0 353.4 140.0 362.9 125.0 369.3 110.0 374.0 95.0 380.3 80.0" stroke="#ff8000" stroke-width="1" fill="none"/>
<path d="M89.2 365.0 95.6 350.0 103.5 335.0 111.4 320.0 117.7 305.0 125.6 290.0 133.5 275.0 141.4 260.0 152.5 245.0 163.6 230.0 176.3 215.0 187.3 200.0 196.8 185.0 203.1 170.0 207.9 155.0 214.2 140.0 220.6 125.0 225.3 110.0 228.5 95.0 231.6 80.0" stroke="#ff8000" stroke-width="1" fill="none"/>
<path d="M87.7 365.0 92.4 350.0 98.7 335.0 103.5 320.0 108.2 305.0 111.4 290.0 114.6 275.0 132.0 260.0 147.8 245.0 157.3 230.0 168.3 215.0 177.8 200.0 190.5 185.0 198.4 170.0 206.3 155.0 214.2 140.0 223.7 125.0 230.0 110.0 233.2 95.0 236.4 80.0" stroke="#ff8000" stroke-width="1" fill="none"/>
<path d="M86.0 365.0 90.0 350.0 94.0 335.0 96.5 320.0 97.5 305.0 98.0 290.0 102.0 275.0 107.0 260.0 111.0 245.0 113.0 230.0 115.0 215.0 115.5 200.0 116.0 185.0 118.0 170.0 121.0 155.0 124.0 140.0 127.0 125.0 130.0 110.0 137.0 95.0 141.0 80.0" stroke="#0000ff" stroke-width="2" fill="none"/>
</g>
<path d="M65.5 65.5H615.5V375.5H65.5Z M128.5 376v-6M128.5 65v6 M181.5 376v-11M181.5 65v11 M234.5 376v-6M234.5 65v6 M287.5 376v-11M287.5 65v11 M340.5 376v-6M340.5 65v6 M393.5 376v-11M393.5 65v11 M446.5 376v-6M446.5 65v6 M499.5 376v-11M499.5 65v11 M552.5 376v-6M552.5 65v6 M605.5 376v-11M605.5 65v11 M65 336.5h6M616 336.5h-6 M65 307.5h6M616 307.5h-6 M65 278.5h6M616 278.5h-6 M65 249.5h6M616 249.5h-6 M65 220.5h11M616 220.5h-11 M65 191.5h6M616 191.5h-6 M65 162.5h6M616 162.5h-6 M65 133.5h6M616 133.5h-6 M65 104.5h6M616 104.5h-6 M65 75.5h11M616 75.5h-11" fill="none" stroke="#000" stroke-width="1" shape-rendering="crispEdges"/>
<g>
<text class="d" transform="translate(333 30) scale(1.16 1)" x="-16.55 -8.28 0.00 8.28 16.55" text-anchor="middle">T1070</text>
<text transform="translate(333.5 420) scale(1.0959 1)" text-anchor="middle">Percent of Residues (CA)</text>
<text transform="translate(31 232.5) rotate(-90) scale(1.0959 1)" text-anchor="middle">Distance Cutoff, A</text>
<text class="d" transform="translate(65 395) scale(1.16 1)" x="0.00" text-anchor="middle">0</text>
<text class="d" transform="translate(180 395) scale(1.16 1)" x="-4.14 4.14" text-anchor="middle">20</text>
<text class="d" transform="translate(286 395) scale(1.16 1)" x="-4.14 4.14" text-anchor="middle">40</text>
<text class="d" transform="translate(392 395) scale(1.16 1)" x="-4.14 4.14" text-anchor="middle">60</text>
<text class="d" transform="translate(498 395) scale(1.16 1)" x="-4.14 4.14" text-anchor="middle">80</text>
<text class="d" transform="translate(609 395) scale(1.16 1)" x="-8.28 0.00 8.28" text-anchor="middle">100</text>
<text class="d" transform="translate(55 375) rotate(-90) scale(1.16 1)" x="0.00" text-anchor="middle">0</text>
<text class="d" transform="translate(55 220) rotate(-90) scale(1.16 1)" x="0.00" text-anchor="middle">5</text>
<text class="d" transform="translate(55 66) rotate(-90) scale(1.16 1)" x="-4.14 4.14" text-anchor="middle">10</text>
</g>
</svg>
</body></html>
